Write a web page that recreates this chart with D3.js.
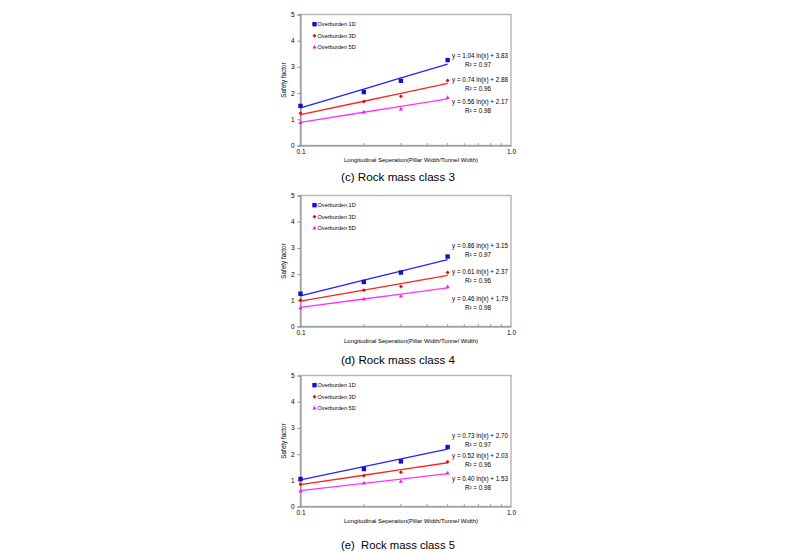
<!DOCTYPE html>
<html>
<head>
<meta charset="utf-8">
<script src="https://cdn.jsdelivr.net/npm/d3@7"></script>
<style>
  body { margin: 0; background: #fff; }
  svg { display: block; }
  text { font-family: "Liberation Sans", Arial, sans-serif; fill: #000; }
</style>
</head>
<body>
<div id="chart"></div>
<script>
// separations (pillar width / tunnel width)
const xVals = [0.1, 0.2, 0.3, 0.5];
const seriesNames = ["Overburden 1D", "Overburden 3D", "Overburden 5D"];
const panelTitles = ["(c) Rock mass class 3", "(d) Rock mass class 4", "(e)  Rock mass class 5"];
const yTicks = [0, 1, 2, 3, 4, 5];

// safety factors
const class3_1D = [1.51, 2.04, 2.47, 3.26];
const class3_3D = [1.23, 1.68, 1.88, 2.48];
const class3_5D = [0.87, 1.27, 1.38, 1.82];
const class4_1D = [1.25, 1.70, 2.06, 2.67];
const class4_3D = [1.00, 1.38, 1.53, 2.06];
const class4_5D = [0.70, 1.04, 1.15, 1.51];
const class5_1D = [1.05, 1.43, 1.72, 2.27];
const class5_3D = [0.85, 1.17, 1.31, 1.71];
const class5_5D = [0.58, 0.89, 0.95, 1.27];

// log trendline coefficients as printed: y = a ln(x) + b
const class3_fitA = [1.04, 0.74, 0.56];
const class3_fitB = [3.83, 2.88, 2.17];
const class4_fitA = [0.86, 0.61, 0.46];
const class4_fitB = [3.15, 2.37, 1.79];
const class5_fitA = [0.73, 0.52, 0.40];
const class5_fitB = [2.70, 2.03, 1.53];
const fitR2 = ["0.97", "0.96", "0.98"];

// where the equation labels sit (in safety factor units)
const class3_labelY = [3.43, 2.49, 1.67];
const class4_labelY = [3.08, 2.07, 1.06];
const class5_labelY = [2.71, 1.93, 1.04];

const panels = [
  {title: panelTitles[0], series: [class3_1D, class3_3D, class3_5D], a: class3_fitA, b: class3_fitB, labelY: class3_labelY},
  {title: panelTitles[1], series: [class4_1D, class4_3D, class4_5D], a: class4_fitA, b: class4_fitB, labelY: class4_labelY},
  {title: panelTitles[2], series: [class5_1D, class5_3D, class5_5D], a: class5_fitA, b: class5_fitB, labelY: class5_labelY}
];

const W = 800, H = 553;
const lineColors = ["#2222ff", "#ff2222", "#ff33ff"];
const markColors = ["#1212c8", "#e01010", "#f020f0"];
const panelTops = [14.5, 195.5, 375.5];
const captionGap = [35, 37.5, 42.5];
const plotH = 131;

const svg = d3.select("#chart").append("svg")
    .attr("width", W).attr("height", H);

const x = d3.scaleLog().domain([0.1, 1]).range([300.5, 511]);

function marker(g, k, cx, cy) {
  if (k === 0) {
    g.append("rect").attr("x", cx - 2.2).attr("y", cy - 2.2)
      .attr("width", 4.4).attr("height", 4.4).attr("fill", markColors[0]);
  } else if (k === 1) {
    g.append("rect").attr("x", -1.4).attr("y", -1.4)
      .attr("width", 2.8).attr("height", 2.8)
      .attr("transform", "translate(" + cx + "," + cy + ") rotate(45)").attr("fill", markColors[1]);
  } else {
    g.append("path").attr("d", d3.symbol(d3.symbolTriangle, 8)())
      .attr("transform", "translate(" + cx + "," + cy + ")").attr("fill", markColors[2]);
  }
}

panels.forEach((p, pi) => {
  const top = panelTops[pi];
  const y = d3.scaleLinear().domain([0, 5]).range([top + plotH, top]);
  const g = svg.append("g");

  // plot frame
  g.append("rect")
    .attr("x", x.range()[0]).attr("y", top)
    .attr("width", x.range()[1] - x.range()[0]).attr("height", plotH)
    .attr("fill", "none").attr("stroke", "#b4b4b4").attr("stroke-width", 1.4);

  // y axis
  const yAxis = g.append("g")
    .attr("transform", "translate(" + x.range()[0] + ",0)")
    .call(d3.axisLeft(y).tickValues(yTicks).tickSize(3).tickPadding(3).tickFormat(d3.format("d")));
  yAxis.select(".domain").attr("stroke", "#8a8a8a");
  yAxis.selectAll("line").attr("stroke", "#8a8a8a");
  yAxis.selectAll("text").style("font-size", "6.5px").style("font-family", "Liberation Sans, Arial, sans-serif");

  // x axis: majors below, minors pointing in
  const xAxis = g.append("g")
    .attr("transform", "translate(0," + (top + plotH) + ")")
    .call(d3.axisBottom(x).tickValues([0.1, 1]).tickSize(0).tickPadding(4).tickFormat(d3.format(".1f")));
  xAxis.select(".domain").attr("stroke", "#8a8a8a");
  xAxis.selectAll("text").style("font-size", "6.5px").style("font-family", "Liberation Sans, Arial, sans-serif");
  g.append("g").selectAll("line")
    .data(d3.range(2, 10).map(d => d / 10))
    .join("line")
    .attr("x1", d => x(d)).attr("x2", d => x(d))
    .attr("y1", top + plotH).attr("y2", top + plotH - 2.5)
    .attr("stroke", "#8a8a8a").attr("stroke-width", 0.8);

  // axis titles
  g.append("text")
    .attr("x", 411).attr("y", top + plotH + 16)
    .attr("text-anchor", "middle")
    .attr("textLength", 134).attr("lengthAdjust", "spacingAndGlyphs")
    .style("font-size", "6px")
    .text("Longitudinal Seperation(Pillar Width/Tunnel Width)");
  g.append("text")
    .attr("transform", "translate(286," + (top + plotH / 2) + ") rotate(-90)")
    .attr("text-anchor", "middle")
    .style("font-size", "6.3px")
    .text("Safety factor");

  // trendlines and points
  p.series.forEach((vals, k) => {
    const fit = xVals.map(v => ({x: v, y: p.a[k] * Math.log(v) + p.b[k]}));
    g.append("path")
      .datum(fit)
      .attr("fill", "none").attr("stroke", lineColors[k]).attr("stroke-width", 1.3)
      .attr("d", d3.line().x(d => x(d.x)).y(d => y(d.y)));
    vals.forEach((v, i) => marker(g, k, x(xVals[i]), y(v)));

    // equation label
    const ly = y(p.labelY[k]);
    g.append("text").attr("x", 480).attr("y", ly + 2.2)
      .attr("text-anchor", "middle").style("font-size", "6.3px")
      .text("y = " + p.a[k].toFixed(2) + " ln(x) + " + p.b[k].toFixed(2));
    g.append("text").attr("x", 478).attr("y", ly + 11.2)
      .attr("text-anchor", "middle").style("font-size", "6.3px")
      .text("R\u00b2 = " + fitR2[k]);
  });

  // legend
  seriesNames.forEach((name, k) => {
    const ly = top + 9.7 + k * 11.5;
    marker(g, k, 314.5, ly);
    g.append("text").attr("x", 317.5).attr("y", ly + 2)
      .style("font-size", "5.6px").text(name);
  });

  // caption
  g.append("text")
    .attr("x", 398).attr("y", top + plotH + captionGap[pi])
    .attr("text-anchor", "middle")
    .attr("textLength", 114).attr("lengthAdjust", "spacingAndGlyphs")
    .style("font-size", "10px").style("white-space", "pre")
    .text(p.title);
});
</script>
</body>
</html>
